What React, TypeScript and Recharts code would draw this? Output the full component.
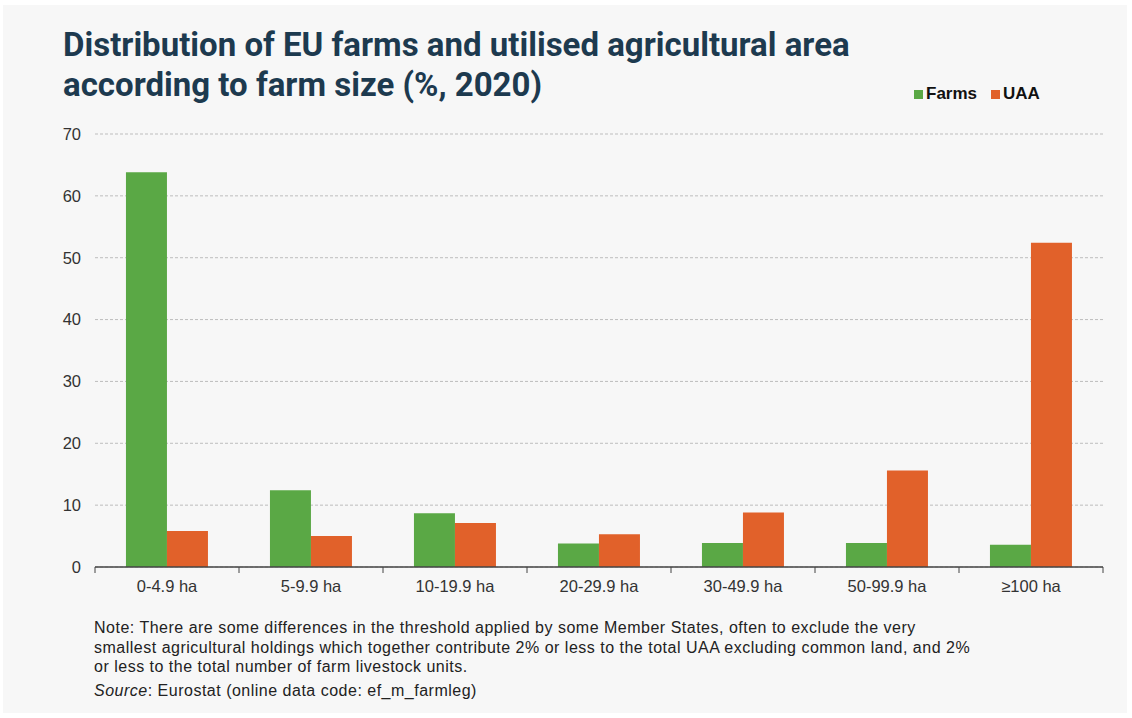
import React from 'react';
import { BarChart, Bar, XAxis, YAxis, CartesianGrid } from 'recharts';

const sizes = ['0-4.9 ha', '5-9.9 ha', '10-19.9 ha', '20-29.9 ha', '30-49.9 ha', '50-99.9 ha', '≥100 ha'];
const farms = [63.8, 12.4, 8.7, 3.8, 3.9, 3.9, 3.6];
const uaa = [5.8, 5.0, 7.1, 5.3, 8.8, 15.6, 52.4];
const yTicks = [0, 10, 20, 30, 40, 50, 60, 70];
const seriesNames = ['Farms', 'UAA'];

const data = sizes.map((s, i) => ({ name: s, farms: farms[i], uaa: uaa[i] }));

const GREEN = '#5aa845';
const ORANGE = '#e1612a';
const FONT = '"Liberation Sans", Arial, sans-serif';

function CatTick(props: any) {
  const { x, y, payload, index, visibleTicksCount } = props;
  const off = payload.offset || 0;
  const last = index === visibleTicksCount - 1;
  return (
    <g>
      <line x1={x - off} x2={x - off} y1={y - 8} y2={y - 2} stroke="#444" />
      {last && <line x1={x + off} x2={x + off} y1={y - 8} y2={y - 2} stroke="#444" />}
      <text x={x} y={y + 17} textAnchor="middle" fill="#333" fontSize={16.5} fontFamily={FONT}>
        {payload.value}
      </text>
    </g>
  );
}

function LegendBox() {
  const item = (c: string, label: string) => (
    <span key={label} style={{ display: 'inline-flex', alignItems: 'center', marginRight: 14 }}>
      <span style={{ width: 9, height: 9, background: c, display: 'inline-block', marginRight: 3 }} />
      <span>{label}</span>
    </span>
  );
  return (
    <div style={{ fontFamily: FONT, fontWeight: 700, fontSize: 17, color: '#111', whiteSpace: 'nowrap', display: 'flex' }}>
      {item(GREEN, seriesNames[0])}
      {item(ORANGE, seriesNames[1])}
    </div>
  );
}

export default function App() {
  return (
    <div style={{ position: 'fixed', left: 0, top: 0, width: 1132, height: 718, background: '#fff' }}>
      <div style={{ position: 'absolute', left: 3, top: 5, width: 1124, height: 708, background: '#f7f7f7' }} />
      <div style={{ position: 'absolute', left: 0, top: 0 }}>
        <BarChart
          width={1132}
          height={718}
          data={data}
          margin={{ top: 134, right: 29, bottom: 121, left: 35 }}
          barCategoryGap="21.5%"
          barGap={0}
        >
          <CartesianGrid vertical={false} stroke="#bdbdbd" strokeDasharray="3 2" />
          <XAxis
            dataKey="name"
            axisLine={{ stroke: '#444', strokeWidth: 1.5 }}
            tickLine={false}
            tick={<CatTick />}
            interval={0}
            height={30}
          />
          <YAxis
            width={60}
            domain={[0, 70]}
            ticks={yTicks}
            axisLine={false}
            tickLine={false}
            tick={{ fill: '#333', fontSize: 16.5, fontFamily: FONT }}
            tickMargin={8}
          />
          <Bar dataKey="farms" name={seriesNames[0]} fill={GREEN} isAnimationActive={false} />
          <Bar dataKey="uaa" name={seriesNames[1]} fill={ORANGE} isAnimationActive={false} />
        </BarChart>
      </div>
      <div style={{ position: 'absolute', left: 914, top: 84 }}>
        <LegendBox />
      </div>
      <div
        style={{
          position: 'absolute',
          left: 63,
          top: 25,
          fontFamily: 'Roboto, sans-serif',
          fontWeight: 700,
          fontSize: 33,
          lineHeight: '40px',
          color: '#1d3a4f',
          whiteSpace: 'nowrap',
        }}
      >
        Distribution of EU farms and utilised agricultural area
        <br />
        according to farm size (%, 2020)
      </div>
      <div
        style={{
          position: 'absolute',
          left: 94,
          top: 618,
          fontFamily: FONT,
          fontSize: 16,
          letterSpacing: 0.5,
          lineHeight: '19.5px',
          color: '#222',
          whiteSpace: 'nowrap',
        }}
      >
        Note: There are some differences in the threshold applied by some Member States, often to exclude the very
        <br />
        smallest agricultural holdings which together contribute 2% or less to the total UAA excluding common land, and 2%
        <br />
        or less to the total number of farm livestock units.
        <div style={{ marginTop: 4 }}>
          <i>Source</i>: Eurostat (online data code: ef_m_farmleg)
        </div>
      </div>
    </div>
  );
}
